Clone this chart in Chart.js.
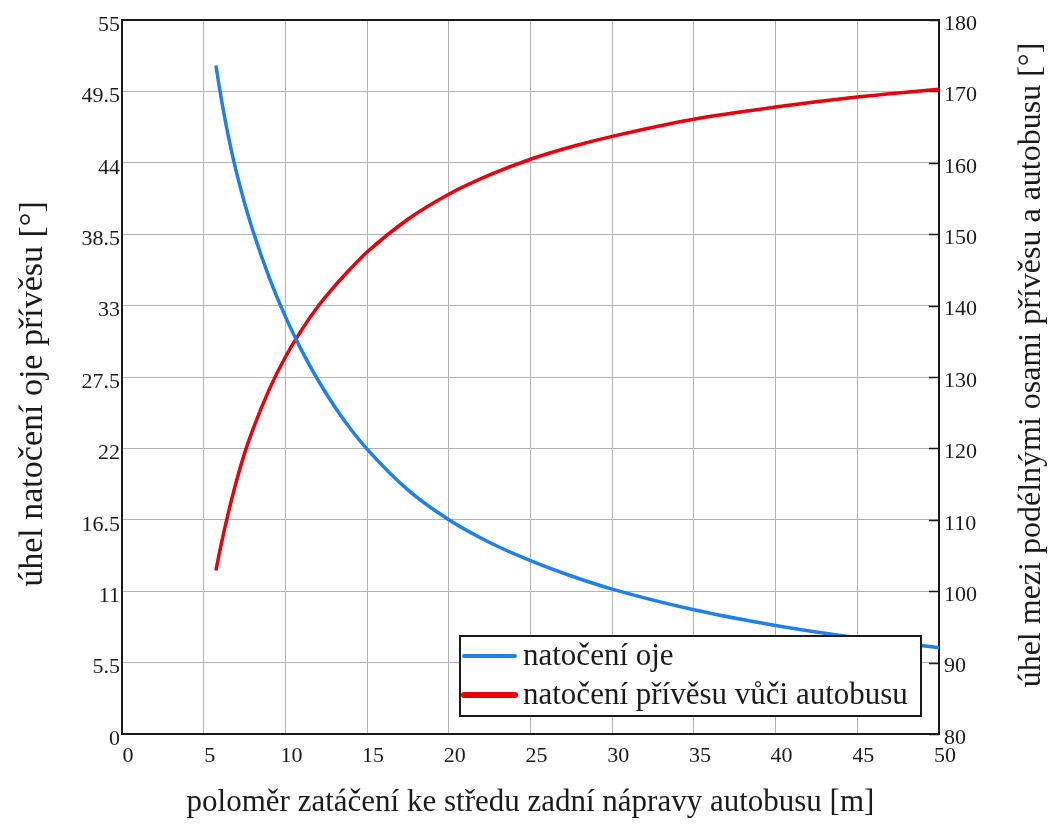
<!DOCTYPE html>
<html>
<head>
<meta charset="utf-8">
<script src="https://cdn.jsdelivr.net/npm/chart.js@4.4.1/dist/chart.umd.min.js"></script>
<style>
  html, body { margin: 0; padding: 0; background: #ffffff; }
  #wrap { width: 1048px; height: 827px; position: relative; }
</style>
</head>
<body>
<div id="wrap"><canvas id="c" width="1048" height="827"></canvas></div>
<script>
// turning radius to the centre of the bus rear axle [m]
const radius = [5.75, 6, 6.5, 7, 7.5, 8, 9, 10, 11, 12, 13, 14, 15, 17.5, 20, 22.5, 25, 27.5, 30, 35, 40, 45, 50];
// drawbar angle [deg] (left axis)
const drawbarAngle = [51.5, 49.5, 46.1, 43.3, 40.9, 38.8, 35.2, 32.15, 29.53, 27.25, 25.25, 23.48, 21.95, 18.8, 16.5, 14.75, 13.35, 12.17, 11.16, 9.57, 8.36, 7.41, 6.65];
// angle between trailer and bus longitudinal axes [deg] (right axis)
const trailerAngle = [102.9, 105.8, 110.9, 115.4, 119.3, 122.6, 128.2, 132.8, 136.6, 139.9, 142.7, 145.2, 147.5, 152.1, 155.6, 158.3, 160.5, 162.25, 163.7, 166.1, 167.8, 169.2, 170.3];

const xTicks = [0, 5, 10, 15, 20, 25, 30, 35, 40, 45, 50];
const leftTicks = [0, 5.5, 11, 16.5, 22, 27.5, 33, 38.5, 44, 49.5, 55];
const rightTicks = [80, 90, 100, 110, 120, 130, 140, 150, 160, 170, 180];

const seriesLabels = ['natočení oje', 'natočení přívěsu vůči autobusu'];
const xTitle = 'poloměr zatáčení ke středu zadní nápravy autobusu [m]';
const leftTitle = 'úhel natočení oje přívěsu [°]';
const rightTitle = 'úhel mezi podélnými osami přívěsu a autobusu [°]';

const SERIF = '"Liberation Serif", "Times New Roman", serif';
const BLUE = '#1e80e8';
const RED = '#e8000c';
const INK = '#1a1a1a';

const toPoints = (xs, ys) => xs.map((x, i) => ({ x: x, y: ys[i] }));
const useTicks = list => scale => { scale.ticks = list.map(v => ({ value: v })); };

// frame, inner ticks on the right axis, axis titles and the boxed legend
const decorations = {
  id: 'decorations',
  beforeDatasetsDraw(chart) {
    const { ctx, chartArea: a, scales } = chart;
    ctx.save();
    ctx.strokeStyle = INK;
    ctx.lineWidth = 2;
    ctx.strokeRect(a.left, a.top, a.right - a.left, a.bottom - a.top);
    ctx.lineWidth = 1.5;
    rightTicks.forEach(v => {
      const y = Math.round(scales.y2.getPixelForValue(v)) + 0.5;
      ctx.beginPath();
      ctx.moveTo(a.right - 10, y);
      ctx.lineTo(a.right, y);
      ctx.stroke();
    });
    ctx.restore();
  },
  afterDatasetsDraw(chart) {
    const { ctx, chartArea: a } = chart;
    ctx.save();
    ctx.fillStyle = INK;
    ctx.textAlign = 'center';
    ctx.textBaseline = 'middle';
    ctx.font = '31px ' + SERIF;
    ctx.fillText(xTitle, (a.left + a.right) / 2, 803);

    ctx.save();
    ctx.font = '34px ' + SERIF;
    ctx.translate(33, 394);
    ctx.rotate(-Math.PI / 2);
    ctx.fillText(leftTitle, 0, 0);
    ctx.restore();

    ctx.save();
    ctx.font = '32px ' + SERIF;
    ctx.translate(1032, 365);
    ctx.rotate(-Math.PI / 2);
    ctx.fillText(rightTitle, 0, 0);
    ctx.restore();

    // legend box
    ctx.font = '31px ' + SERIF;
    const bx = a.right - 479, by = a.bottom - 98, bw = 461, bh = 80;
    ctx.fillStyle = '#ffffff';
    ctx.fillRect(bx, by, bw, bh);
    ctx.strokeStyle = INK;
    ctx.lineWidth = 2;
    ctx.strokeRect(bx, by, bw, bh);
    const widths = [4, 6];
    chart.data.datasets.forEach((ds, i) => {
      const cy = by + 20 + i * 39;
      ctx.strokeStyle = ds.borderColor;
      ctx.lineWidth = widths[i];
      ctx.lineCap = 'round';
      ctx.beginPath();
      ctx.moveTo(bx + 4, cy);
      ctx.lineTo(bx + 55, cy);
      ctx.stroke();
      ctx.fillStyle = INK;
      ctx.textAlign = 'left';
      ctx.textBaseline = 'middle';
      ctx.fillText(ds.label, bx + 63, cy + 1);
    });
    ctx.restore();
  }
};

new Chart(document.getElementById('c'), {
  type: 'line',
  data: {
    datasets: [
      {
        label: seriesLabels[0],
        data: toPoints(radius, drawbarAngle),
        yAxisID: 'y',
        borderColor: BLUE,
        borderWidth: 3.5,
        pointRadius: 0,
        cubicInterpolationMode: 'monotone'
      },
      {
        label: seriesLabels[1],
        data: toPoints(radius, trailerAngle),
        yAxisID: 'y2',
        borderColor: RED,
        borderWidth: 3.5,
        pointRadius: 0,
        cubicInterpolationMode: 'monotone'
      }
    ]
  },
  options: {
    responsive: false,
    animation: false,
    devicePixelRatio: 1,
    layout: { padding: { top: 20, left: 0, right: 0, bottom: 0 } },
    plugins: { legend: { display: false }, tooltip: { enabled: false } },
    scales: {
      x: {
        type: 'linear',
        min: 0, max: 50,
        afterBuildTicks: useTicks(xTicks),
        afterFit: s => { s.height = 93; },
        grid: { color: '#b2b2b2', lineWidth: 1, drawTicks: false },
        border: { display: false },
        ticks: {
          color: INK,
          font: { family: SERIF, size: 22 },
          padding: 9,
          labelOffset: 6,
          maxRotation: 0,
          callback: v => String(v)
        }
      },
      y: {
        type: 'linear',
        position: 'left',
        min: 0, max: 55,
        afterBuildTicks: useTicks(leftTicks),
        afterFit: s => { s.width = 122; },
        grid: { color: '#b2b2b2', lineWidth: 1, drawTicks: false },
        border: { display: false },
        ticks: {
          color: INK,
          font: { family: SERIF, size: 22 },
          padding: 2,
          labelOffset: 5,
          callback: v => String(v)
        }
      },
      y2: {
        type: 'linear',
        position: 'right',
        min: 80, max: 180,
        afterBuildTicks: useTicks(rightTicks),
        afterFit: s => { s.width = 109; },
        grid: { display: false, drawTicks: false },
        border: { display: false },
        ticks: {
          color: INK,
          font: { family: SERIF, size: 22 },
          padding: 5,
          labelOffset: 4,
          callback: v => String(v)
        }
      }
    }
  },
  plugins: [decorations]
});
</script>
</body>
</html>
